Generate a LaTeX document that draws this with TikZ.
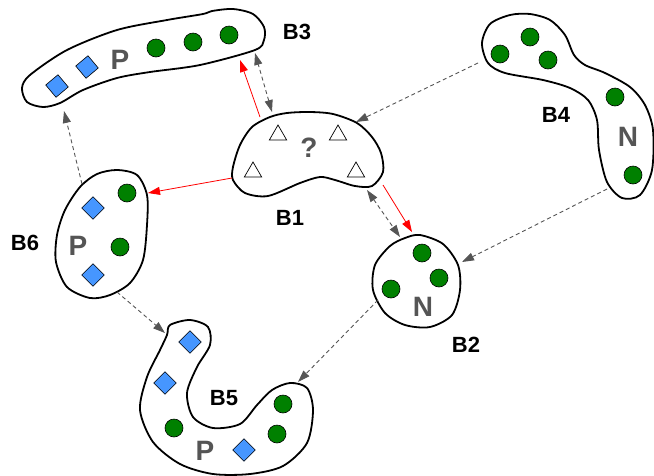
\documentclass[tikz,border=0pt]{standalone}
\usepackage{fontspec}
\setmainfont{Liberation Sans}
\usetikzlibrary{arrows.meta,shapes.geometric}
\definecolor{dotgreen}{RGB}{0,128,0}
\definecolor{dblue}{RGB}{70,150,255}
\definecolor{txtgray}{RGB}{85,85,85}
\definecolor{arrgray}{RGB}{85,85,85}
\begin{document}
\begin{tikzpicture}[x=1pt,y=-1pt,
  blob/.style={draw=black, line width=1.8pt},
  gdot/.style={circle, draw=black, line width=0.6pt, fill=dotgreen, minimum size=18pt, inner sep=0pt},
  bdia/.style={rectangle, draw=black, line width=0.6pt, fill=dblue, minimum size=16pt, inner sep=0pt, rotate=45},
  tri/.style={regular polygon, regular polygon sides=3, draw=black, line width=0.7pt, fill=white, minimum size=20pt, inner sep=0pt},
  lbl/.style={font=\bfseries\fontsize{22}{22}\selectfont},
  big/.style={font=\bfseries\fontsize{28}{28}\selectfont, text=txtgray},
  redarr/.style={draw=red, line width=0.8pt, -{Triangle[length=12pt,width=8pt]}},
  dasharr/.style={draw=arrgray, line width=0.9pt, dash pattern=on 4pt off 3pt, -{Triangle[length=12pt,width=8pt]}},
  dasharrb/.style={draw=arrgray, line width=0.9pt, dash pattern=on 4pt off 3pt, {Triangle[length=12pt,width=8pt]}-{Triangle[length=12pt,width=8pt]}}
]
\useasboundingbox (0,0) rectangle (654,475);

% B3
\draw[blob] plot[smooth cycle] coordinates {(22,88) (30,75) (67,50) (117,30) (167,20) (203,14) (212,11) (233,9) (253,14) (264,27) (264,40) (255,50) (200,65) (150,72) (117,78) (83,90) (60,103) (43,107) (27,102)};
\node[bdia, rotate=-5] (b3d1) at (57,86) {};
\node[bdia, rotate=-5] (b3d2) at (87,67) {};
\node[big] (b3p) at (120,60) {P};
\node[gdot] (b3g1) at (156,48) {};
\node[gdot] (b3g2) at (193,42) {};
\node[gdot] (b3g3) at (229,35) {};
\node[lbl] (lb3) at (297,32) {B3};

% B1
\draw[blob] plot[smooth cycle] coordinates {(233,167) (240,145) (252,127) (270,117) (287,113) (310,112) (333,114) (357,123) (372,137) (381,153) (383,172) (372,186) (355,186) (335,180) (320,177) (300,183) (268,196) (245,193) (233,180)};
\node[tri] (t1) at (278,135) {};
\node[tri] (t2) at (338,135) {};
\node[tri] (t3) at (253,172) {};
\node[tri] (t4) at (356,172) {};
\node[big] (q) at (309,148) {?};
\node[lbl] (lb1) at (290,218) {B1};

% B4
\draw[blob] plot[smooth cycle] coordinates {(482,43) (490,24) (510,15) (530,14) (550,20) (565,35) (574,55) (585,65) (605,73) (630,87) (645,105) (653,130) (652,170) (640,195) (622,198) (607,182) (599,150) (597,120) (588,100) (570,88) (543,80) (505,73) (488,63)};
\node[gdot] (b4g1) at (500,54) {};
\node[gdot] (b4g2) at (530,37) {};
\node[gdot] (b4g3) at (548,60) {};
\node[gdot] (b4g4) at (615,97) {};
\node[gdot] (b4g5) at (633,175) {};
\node[big] (b4n) at (628,137) {N};
\node[lbl] (lb4) at (556,115) {B4};

% B6
\draw[blob] plot[smooth cycle] coordinates {(117,170) (137,175) (147,195) (147,225) (143,260) (130,283) (110,295) (90,298) (67,287) (56,262) (57,235) (65,210) (80,187) (97,174)};
\node[gdot] (b6g1) at (127,193) {};
\node[bdia] (b6d1) at (93,208) {};
\node[big] (b6p) at (78,246) {P};
\node[gdot] (b6g2) at (120,247) {};
\node[bdia] (b6d2) at (93,275) {};
\node[lbl] (lb6) at (25,243) {B6};

% B5
\draw[blob] plot[smooth cycle] coordinates {(170,325) (190,320) (208,327) (210,345) (197,367) (187,393) (193,417) (213,428) (240,424) (257,405) (272,390) (290,383) (307,388) (313,410) (307,443) (283,466) (250,474) (213,474) (180,464) (153,442) (140,410) (147,377) (160,350) (167,335)};
\node[bdia] (b5d1) at (190,342) {};
\node[bdia] (b5d2) at (165,383) {};
\node[gdot] (b5g1) at (174,428) {};
\node[big] (b5p) at (205,451) {P};
\node[bdia] (b5d3) at (244,450) {};
\node[gdot] (b5g2) at (283,404) {};
\node[gdot] (b5g3) at (277,434) {};
\node[lbl] (lb5) at (224,398) {B5};

% B2
\draw[blob] plot[smooth cycle] coordinates {(420,235) (443,244) (458,265) (460,290) (452,315) (430,327) (405,325) (385,313) (373,290) (375,265) (390,246) (405,238)};
\node[gdot] (b2g1) at (422,253) {};
\node[gdot] (b2g2) at (439,278) {};
\node[gdot] (b2g3) at (391,289) {};
\node[big] (b2n) at (423,307) {N};
\node[lbl] (lb2) at (466,345) {B2};

% connector end points
\coordinate (c1a) at (260,117); \coordinate (c1b) at (240,60);
\coordinate (c2a) at (272,112); \coordinate (c2b) at (255,53);
\coordinate (c3a) at (232,178); \coordinate (c3b) at (148,193);
\coordinate (c4a) at (383,185); \coordinate (c4b) at (412,232);
\coordinate (c5a) at (367,190); \coordinate (c5b) at (400,237);
\coordinate (c6a) at (478,63);  \coordinate (c6b) at (356,122);
\coordinate (c7a) at (607,189); \coordinate (c7b) at (462,262);
\coordinate (c8a) at (82,184);  \coordinate (c8b) at (64,111);
\coordinate (c9a) at (117,292); \coordinate (c9b) at (165,333);
\coordinate (c10a) at (378,300); \coordinate (c10b) at (298,382);

\draw[redarr] (c1a) -- (c1b);
\draw[dasharrb] (c2a) -- (c2b);
\draw[redarr] (c3a) -- (c3b);
\draw[redarr] (c4a) -- (c4b);
\draw[dasharrb] (c5a) -- (c5b);
\draw[dasharr] (c6a) -- (c6b);
\draw[dasharr] (c7a) -- (c7b);
\draw[dasharr] (c8a) -- (c8b);
\draw[dasharr] (c9a) -- (c9b);
\draw[dasharr] (c10a) -- (c10b);
\end{tikzpicture}
\end{document}
